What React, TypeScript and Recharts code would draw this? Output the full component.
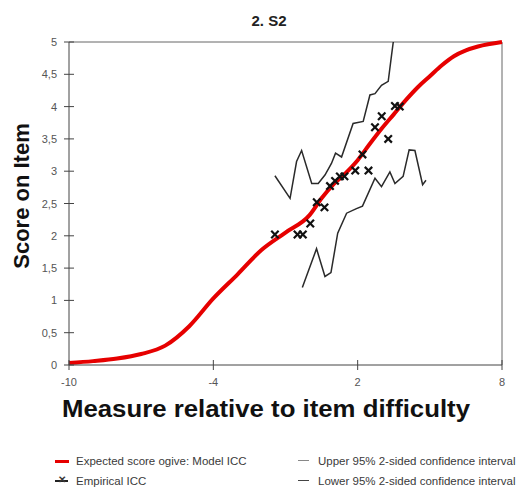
import { ComposedChart, Line, XAxis, YAxis, ReferenceLine } from "recharts";

// expected score ogive (model ICC)
const ogiveX = [-10, -9, -8, -7, -6, -5, -4, -3, -2, -1, 0, 0.5, 1, 1.5, 2, 2.5, 3, 3.5, 4, 4.5, 5, 5.5, 6, 6.5, 7, 8];
const ogiveY = [0.03, 0.06, 0.1, 0.17, 0.3, 0.6, 1.03, 1.4, 1.78, 2.05, 2.32, 2.58, 2.8, 2.97, 3.17, 3.42, 3.66, 3.88, 4.1, 4.3, 4.47, 4.64, 4.78, 4.87, 4.93, 5.0];

// empirical ICC points
const empX = [-1.44, -0.5, -0.28, 0.03, 0.3, 0.62, 0.85, 1.06, 1.26, 1.45, 1.9, 2.2, 2.45, 2.72, 3.0, 3.27, 3.55, 3.75];
const empY = [2.02, 2.02, 2.02, 2.19, 2.52, 2.44, 2.77, 2.85, 2.92, 2.92, 3.01, 3.26, 3.01, 3.68, 3.85, 3.5, 4.01, 4.0];

// upper 95% confidence interval
const upX = [-1.44, -0.81, -0.54, -0.33, 0.09, 0.36, 0.64, 0.91, 1.08, 1.33, 1.81, 2.23, 2.51, 2.72, 2.99, 3.27, 3.41, 3.48];
const upY = [2.93, 2.58, 3.15, 3.32, 2.81, 2.81, 2.94, 3.12, 3.28, 3.22, 3.74, 3.77, 4.18, 4.2, 4.33, 4.39, 4.8, 5.0];

// lower 95% confidence interval
const loX = [-0.3, 0.29, 0.64, 0.89, 1.17, 1.54, 1.95, 2.2, 2.72, 2.99, 3.34, 3.55, 3.89, 4.14, 4.38, 4.7, 4.84];
const loY = [1.2, 1.8, 1.37, 1.43, 2.04, 2.35, 2.42, 2.46, 2.89, 2.76, 2.99, 2.81, 2.92, 3.33, 3.32, 2.79, 2.86];

const xTicks = [-10, -4, 2, 8];
const yTicks = [0, 0.5, 1, 1.5, 2, 2.5, 3, 3.5, 4, 4.5, 5];

const toPoints = (xs: number[], ys: number[]) => xs.map((x, i) => ({ x, y: ys[i] }));

const ogive = toPoints(ogiveX, ogiveY);
const empirical = toPoints(empX, empY);
const upper = toPoints(upX, upY);
const lower = toPoints(loX, loY);

const FONT = "'Liberation Sans', Arial, sans-serif";
const AXIS = "#444";

function YTick(props: any) {
  const { x, y, payload } = props;
  const ax = x + 12;
  return (
    <g>
      <line x1={ax - 5} x2={ax + 5} y1={y} y2={y} stroke={AXIS} strokeWidth={1} />
      <text x={x} y={y} dy={4} textAnchor="end" fontSize={11} fill="#555" fontFamily={FONT}>
        {String(payload.value).replace(".", ",")}
      </text>
    </g>
  );
}

function XTick(props: any) {
  const { x, y, payload } = props;
  const ay = y - 12;
  return (
    <g>
      <line x1={x} x2={x} y1={ay - 5} y2={ay + 5} stroke={AXIS} strokeWidth={1} />
      <text x={x} y={y} dy={9} textAnchor="middle" fontSize={11} fill="#555" fontFamily={FONT}>
        {payload.value}
      </text>
    </g>
  );
}

function Cross(props: any) {
  const { cx, cy } = props;
  if (cx == null || cy == null) return null;
  const s = 3.7;
  return (
    <g>
      <line x1={cx - s} y1={cy - s} x2={cx + s} y2={cy + s} stroke="#111" strokeWidth={2.2} />
      <line x1={cx - s} y1={cy + s} x2={cx + s} y2={cy - s} stroke="#111" strokeWidth={2.2} />
    </g>
  );
}

const legendText: React.CSSProperties = {
  position: "absolute",
  fontSize: 11.5,
  color: "#3a3a3a",
  fontFamily: FONT,
  whiteSpace: "nowrap",
  lineHeight: "12px",
};

export default function App() {
  return (
    <div style={{ position: "absolute", left: 0, top: 0, width: 521, height: 489, overflow: "hidden", background: "#fff" }}>
      <div
        style={{
          position: "absolute",
          left: 0,
          width: 538,
          top: 12,
          textAlign: "center",
          fontFamily: FONT,
          fontWeight: "bold",
          fontSize: 15,
          color: "#222",
        }}
      >
        2. S2
      </div>
      <ComposedChart width={521} height={489} margin={{ top: 42, right: 19, bottom: 94, left: 19 }}>
        <XAxis
          type="number"
          dataKey="x"
          domain={[-10, 8]}
          ticks={xTicks}
          interval={0}
          height={30}
          tickSize={5}
          tickMargin={7}
          tickLine={false}
          axisLine={{ stroke: AXIS }}
          tick={<XTick />}
        />
        <YAxis
          type="number"
          dataKey="y"
          domain={[0, 5]}
          ticks={yTicks}
          interval={0}
          width={50}
          tickSize={5}
          tickMargin={7}
          tickLine={false}
          axisLine={{ stroke: AXIS }}
          tick={<YTick />}
        />
        <ReferenceLine y={5} stroke="#666" strokeWidth={1} />
        <ReferenceLine x={8} stroke="#666" strokeWidth={1} />
        <Line data={upper} dataKey="y" type="linear" stroke="#2a2a2a" strokeWidth={1.5} dot={false} isAnimationActive={false} />
        <Line data={lower} dataKey="y" type="linear" stroke="#2a2a2a" strokeWidth={1.5} dot={false} isAnimationActive={false} />
        <Line data={ogive} dataKey="y" type="monotone" stroke="#e60000" strokeWidth={4} dot={false} isAnimationActive={false} />
        <Line data={empirical} dataKey="y" stroke="none" dot={<Cross />} activeDot={false} isAnimationActive={false} />
      </ComposedChart>
      <div
        style={{
          position: "absolute",
          left: 22,
          top: 196,
          transform: "translate(-50%, -50%) rotate(-90deg)",
          fontFamily: FONT,
          fontWeight: "bold",
          fontSize: 22,
          color: "#111",
          whiteSpace: "nowrap",
        }}
      >
        Score on Item
      </div>
      <div
        style={{
          position: "absolute",
          left: 0,
          width: 532,
          top: 396,
          textAlign: "center",
          fontFamily: FONT,
          fontWeight: "bold",
          fontSize: 23,
          color: "#111",
          whiteSpace: "nowrap",
          transform: "scaleX(1.12)",
          transformOrigin: "266px 0",
        }}
      >
        Measure relative to item difficulty
      </div>
      {/* legend */}
      <div style={{ position: "absolute", left: 55, top: 460, width: 14, height: 3, background: "#e60000" }} />
      <div style={{ ...legendText, left: 76, top: 455 }}>Expected score ogive: Model ICC</div>
      <div style={{ position: "absolute", left: 55, top: 480, width: 13, height: 1.5, background: "#222" }} />
      <div style={{ ...legendText, left: 58, top: 474, fontWeight: "bold", fontSize: 10 }}>✕</div>
      <div style={{ ...legendText, left: 76, top: 475 }}>Empirical ICC</div>
      <div style={{ position: "absolute", left: 298, top: 460, width: 11, height: 1, background: "#888" }} />
      <div style={{ ...legendText, left: 318, top: 455 }}>Upper 95% 2-sided confidence interval</div>
      <div style={{ position: "absolute", left: 298, top: 480, width: 11, height: 1, background: "#444" }} />
      <div style={{ ...legendText, left: 318, top: 475 }}>Lower 95% 2-sided confidence interval</div>
    </div>
  );
}
